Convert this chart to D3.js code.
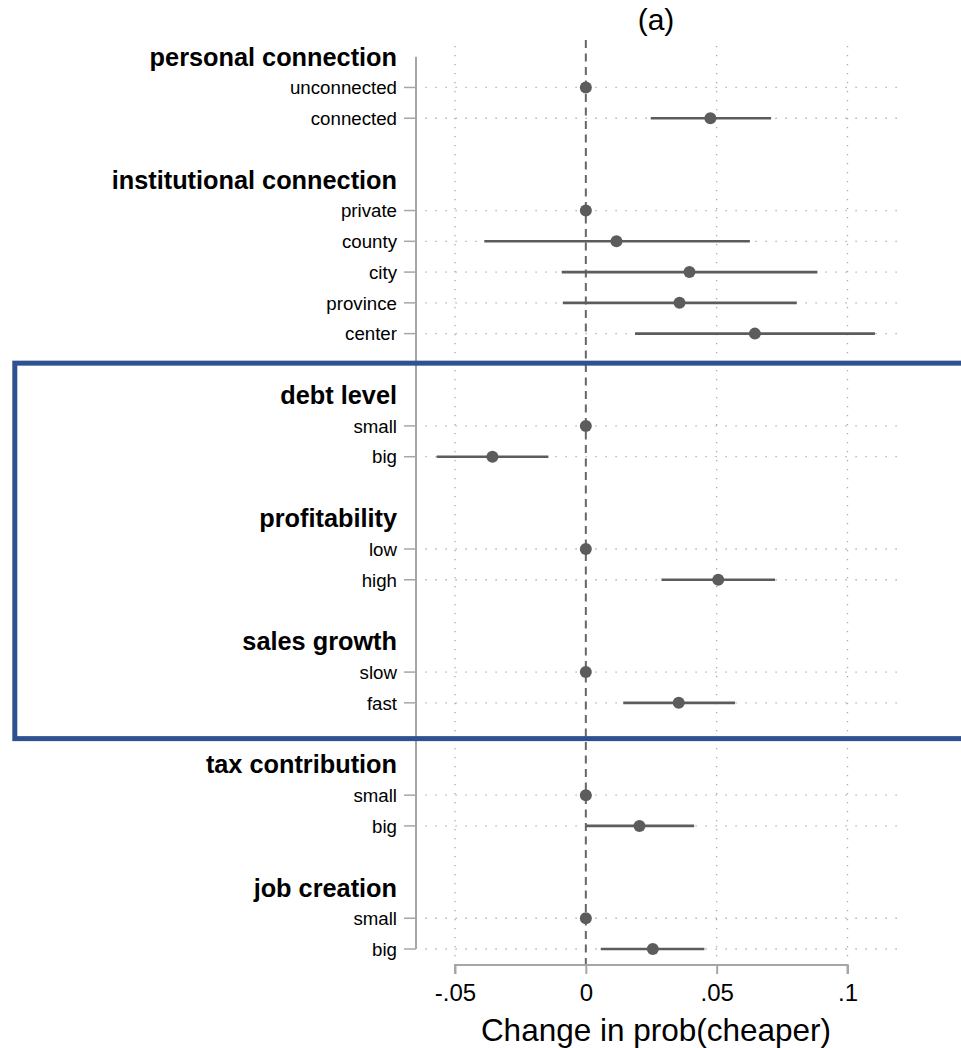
<!DOCTYPE html>
<html>
<head>
<meta charset="utf-8">
<script src="https://cdn.jsdelivr.net/npm/d3@7"></script>
<style>
  body { margin: 0; background: #fff; }
  svg text { font-family: "Liberation Sans", Arial, Helvetica, sans-serif; fill: #000; }
</style>
</head>
<body>
<div id="chart"></div>
<script>
// groups and their levels, first level of each group is the base (0)
const groups = ["personal connection", "institutional connection", "debt level",
    "profitability", "sales growth", "tax contribution", "job creation"];
const levels = [
    ["unconnected", "connected"],
    ["private", "county", "city", "province", "center"],
    ["small", "big"],
    ["low", "high"],
    ["slow", "fast"],
    ["small", "big"],
    ["small", "big"]
];
// point estimates, null CI for base levels
const estimates = [
    [0, 0.0476],
    [0, 0.0117, 0.0396, 0.0358, 0.0646],
    [0, -0.0357],
    [0, 0.0506],
    [0, 0.0355],
    [0, 0.0205],
    [0, 0.0256]
];
const lower = [
    [null, 0.0248],
    [null, -0.0388, -0.0092, -0.0088, 0.0188],
    [null, -0.0570],
    [null, 0.0289],
    [null, 0.0143],
    [null, 0.0000],
    [null, 0.0057]
];
const upper = [
    [null, 0.0708],
    [null, 0.0627, 0.0885, 0.0806, 0.1105],
    [null, -0.0143],
    [null, 0.0723],
    [null, 0.0570],
    [null, 0.0414],
    [null, 0.0453]
];
const xTicks = [-0.05, 0, 0.05, 0.1];
const xTickLabels = ["-.05", "0", ".05", ".1"];
const title = "(a)";
const xTitle = "Change in prob(cheaper)";
// groups that get the highlight box
const boxFrom = 2, boxTo = 4;

// build row list: header, levels, spacer
let rows = [];
groups.forEach((g, gi) => {
    rows.push({ type: "header", label: g, group: gi });
    levels[gi].forEach((l, li) => {
        rows.push({ type: "level", label: l, group: gi,
            est: estimates[gi][li], lo: lower[gi][li], hi: upper[gi][li] });
    });
    if (gi < groups.length - 1) rows.push({ type: "gap", group: gi });
});
rows.forEach((r, i) => r.idx = i);

let width = 961, height = 1048;

let svg = d3.select("#chart").append("svg")
    .attr("width", width)
    .attr("height", height);

let x = d3.scaleLinear()
    .domain([-0.05, 0.1])
    .range([455, 847.5]);

let y = d3.scalePoint()
    .domain(rows.map(d => d.idx))
    .range([56.7, 949]);

let axisX = 416, axisY = 965;
let levelRows = rows.filter(d => d.type === "level");

// vertical dotted grid
svg.append("g").selectAll("line")
    .data(xTicks.filter(d => d !== 0))
    .enter().append("line")
    .attr("x1", d => x(d)).attr("x2", d => x(d))
    .attr("y1", 46).attr("y2", axisY)
    .attr("stroke", "#a8a8a8")
    .attr("stroke-width", 1.3)
    .attr("stroke-dasharray", "1.3,7.7");

// horizontal dotted grid at each level
svg.append("g").selectAll("line")
    .data(levelRows)
    .enter().append("line")
    .attr("x1", x(-0.0613)).attr("x2", x(0.1205))
    .attr("y1", d => y(d.idx)).attr("y2", d => y(d.idx))
    .attr("stroke", "#a8a8a8")
    .attr("stroke-width", 1.3)
    .attr("stroke-dasharray", "1.3,8.7");

// zero reference line
svg.append("line")
    .attr("x1", x(0)).attr("x2", x(0))
    .attr("y1", 40).attr("y2", axisY)
    .attr("stroke", "#666")
    .attr("stroke-width", 2)
    .attr("stroke-dasharray", "8,5.5");

// y axis
let yTicksG = svg.append("g");
yTicksG.append("line")
    .attr("x1", axisX).attr("x2", axisX)
    .attr("y1", y(0)).attr("y2", y(rows.length - 1))
    .attr("stroke", "#a6a6a6")
    .attr("stroke-width", 2);
yTicksG.selectAll(".tick")
    .data(levelRows)
    .enter().append("line")
    .attr("x1", axisX - 12).attr("x2", axisX)
    .attr("y1", d => y(d.idx)).attr("y2", d => y(d.idx))
    .attr("stroke", "#a6a6a6")
    .attr("stroke-width", 1.5);

svg.append("g").selectAll("text")
    .data(rows.filter(d => d.type !== "gap"))
    .enter().append("text")
    .attr("x", 397)
    .attr("y", d => y(d.idx))
    .attr("dy", "0.36em")
    .attr("text-anchor", "end")
    .style("font-size", d => d.type === "header" ? "25.3px" : "18.7px")
    .style("font-weight", d => d.type === "header" ? "bold" : "normal")
    .text(d => d.label);

// x axis
let xAxis = d3.axisBottom(x)
    .tickValues(xTicks)
    .tickSize(9)
    .tickPadding(10)
    .tickFormat((d, i) => xTickLabels[i]);

let gX = svg.append("g")
    .attr("transform", "translate(0," + axisY + ")")
    .call(xAxis);
gX.select(".domain")
    .attr("d", "M" + x(-0.05) + ",9V0H" + x(0.1) + "V9")
    .attr("stroke", "#a6a6a6")
    .attr("stroke-width", 2);
gX.selectAll(".tick line").attr("stroke", "#a6a6a6").attr("stroke-width", 2);
gX.selectAll(".tick text")
    .style("font-size", "24px")
    .style("font-family", "'Liberation Sans', Arial, sans-serif")
    .attr("fill", "#000");

svg.append("text")
    .attr("x", 656).attr("y", 1041)
    .attr("text-anchor", "middle")
    .style("font-size", "31.5px")
    .text(xTitle);

svg.append("text")
    .attr("x", 656).attr("y", 30)
    .attr("text-anchor", "middle")
    .style("font-size", "30px")
    .text(title);

// confidence intervals
svg.append("g").selectAll("line")
    .data(levelRows.filter(d => d.lo !== null))
    .enter().append("line")
    .attr("x1", d => x(d.lo)).attr("x2", d => x(d.hi))
    .attr("y1", d => y(d.idx)).attr("y2", d => y(d.idx))
    .attr("stroke", "#5c5c5c")
    .attr("stroke-width", 2.6);

// point estimates
svg.append("g").selectAll("circle")
    .data(levelRows)
    .enter().append("circle")
    .attr("cx", d => x(d.est))
    .attr("cy", d => y(d.idx))
    .attr("r", 6)
    .attr("fill", "#5c5c5c");

// highlight box around debt / profitability / sales growth
let boxRows = rows.filter(d => d.group >= boxFrom && d.group <= boxTo);
let boxTop = y(boxRows[0].idx) - 32,
    boxBottom = y(boxRows[boxRows.length - 1].idx) + 5;
svg.append("rect")
    .attr("x", 14.8)
    .attr("y", boxTop)
    .attr("width", width + 20)
    .attr("height", boxBottom - boxTop)
    .attr("fill", "none")
    .attr("stroke", "#2e5190")
    .attr("stroke-width", 5);
</script>
</body>
</html>
